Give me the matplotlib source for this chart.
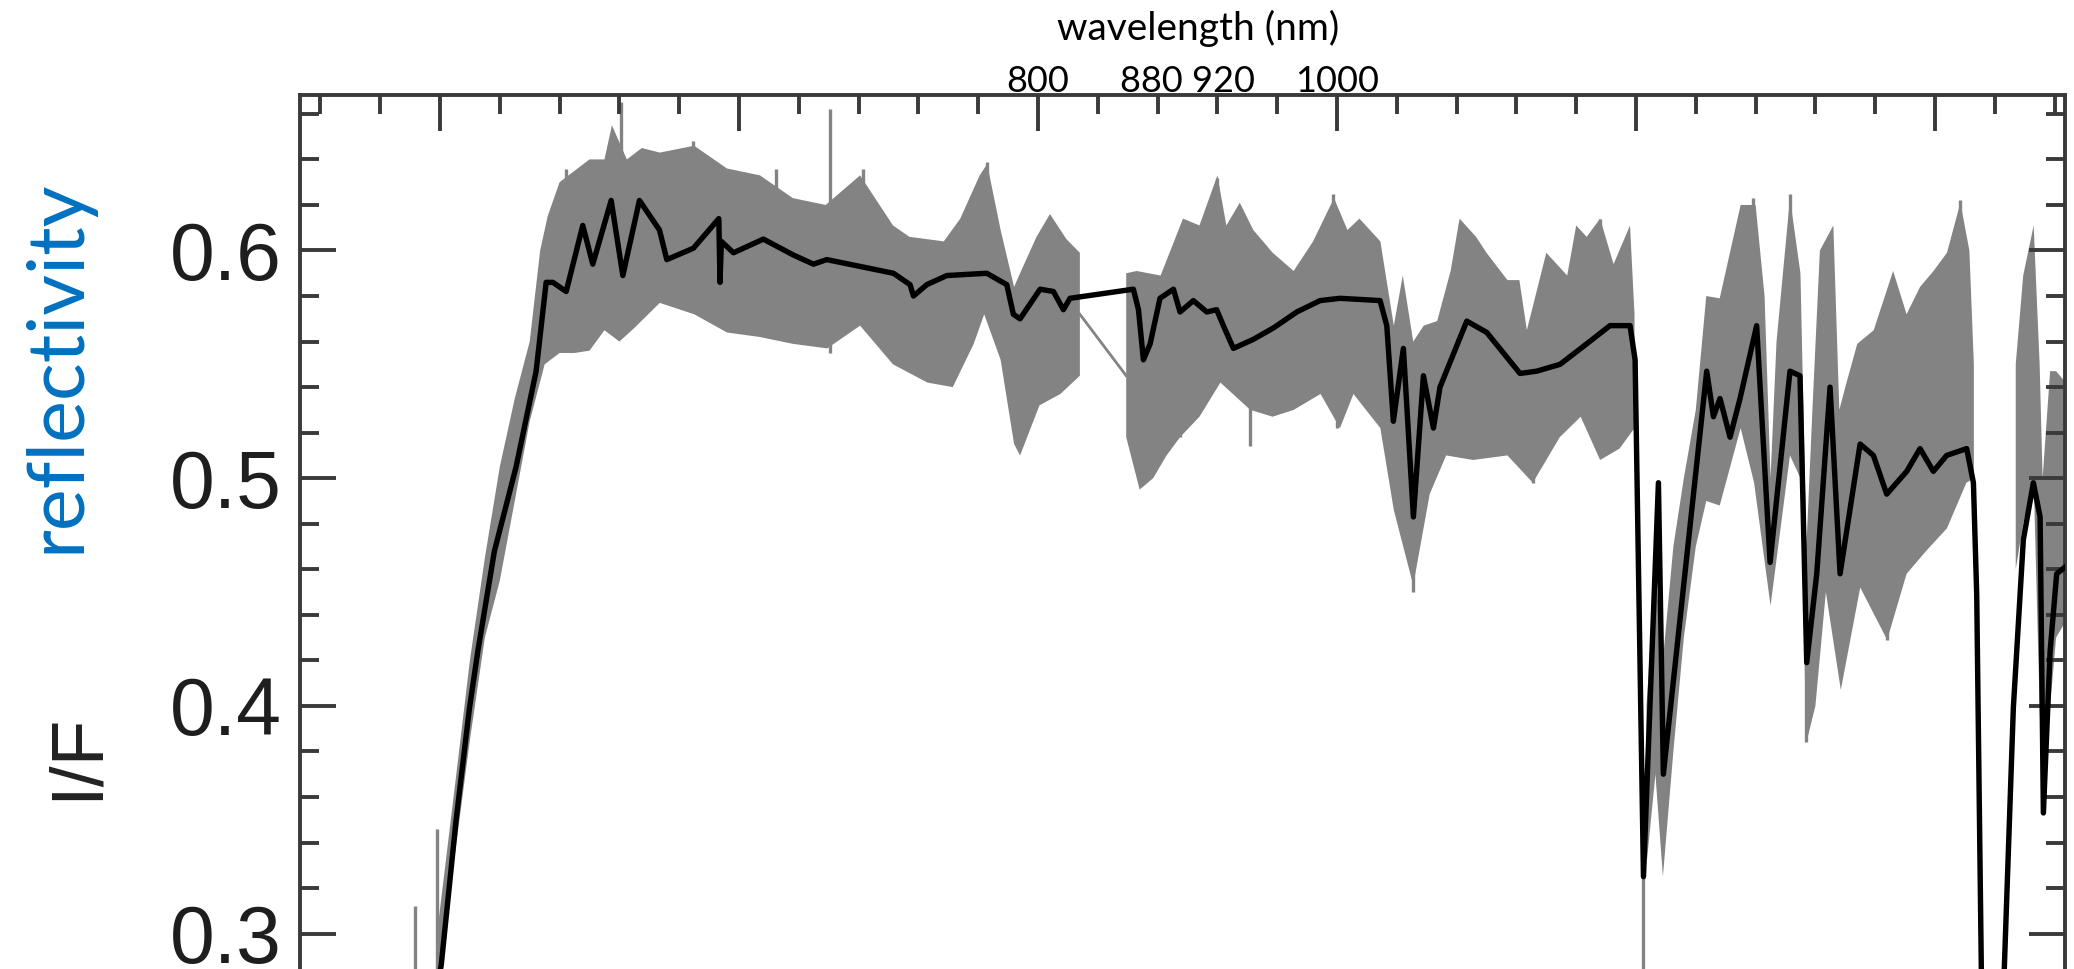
import numpy as np
import matplotlib
matplotlib.use("Agg")
import matplotlib.pyplot as plt

# ---------------- data ----------------
# smoothed spectrum (black line): wavelength (nm) and I/F
black_nm = [396, 400.8, 410.8, 419.7, 425.3, 436.4, 450.9, 464.3, 471.0, 475.5, 484.4, 495.5,
            502.2, 514.5, 522.3, 533.4, 546.8, 551.7, 569.5, 586.5, 587.3, 588.2, 596.3, 616.3,
            636.4, 649.8, 658.7, 681.0, 703.3, 714.4, 716.7, 725.6, 739.0, 765.7, 779.1, 783.5,
            788.0, 801.4, 810.3, 817.0, 821.4, 863.8, 867.2, 870.5, 875.0, 881.6, 890.6, 895.0,
            903.9, 912.9, 919.5, 924.0, 930.7, 944.1, 957.5, 973.1, 988.7, 1002.0, 1028.8,
            1033.3, 1037.7, 1044.4, 1051.1, 1057.8, 1064.5, 1068.9, 1086.8, 1100.2, 1122.4,
            1133.6, 1149.2, 1167.0, 1182.6, 1196.0, 1199.4, 1205.0, 1215.0, 1218.3, 1247.3,
            1251.8, 1256.2, 1262.9, 1269.6, 1280.7, 1289.7, 1303.0, 1309.7, 1314.2, 1320.9,
            1329.8, 1336.5, 1349.9, 1358.8, 1367.7, 1381.1, 1390.0, 1398.9, 1407.8, 1421.2,
            1425.7, 1427.9, 1431.0, 1434.0, 1444.0, 1452.4, 1459.1, 1465.8, 1470.3, 1472.5,
            1477.0, 1481.4, 1487.0]
black_if = [0.270, 0.286, 0.350, 0.399, 0.424, 0.468, 0.505, 0.547, 0.586, 0.586, 0.582, 0.611,
            0.594, 0.622, 0.589, 0.622, 0.609, 0.596, 0.601, 0.614, 0.586, 0.604, 0.599, 0.605,
            0.598, 0.594, 0.596, 0.593, 0.590, 0.585, 0.580, 0.585, 0.589, 0.590, 0.585, 0.572,
            0.570, 0.583, 0.582, 0.574, 0.579, 0.583, 0.574, 0.552, 0.559, 0.579, 0.583, 0.573,
            0.578, 0.573, 0.574, 0.567, 0.557, 0.561, 0.566, 0.573, 0.578, 0.579, 0.578,
            0.567, 0.525, 0.557, 0.483, 0.545, 0.522, 0.540, 0.569, 0.564, 0.546,
            0.547, 0.550, 0.559, 0.567, 0.567, 0.552, 0.325, 0.498, 0.370, 0.547,
            0.527, 0.535, 0.518, 0.535, 0.567, 0.463, 0.547, 0.545, 0.419, 0.458,
            0.540, 0.458, 0.515, 0.510, 0.493, 0.503, 0.513, 0.503, 0.510, 0.513,
            0.498, 0.449, 0.284, 0.240, 0.240, 0.399, 0.473, 0.498, 0.483, 0.353,
            0.424, 0.458, 0.461]

# raw spectrum (grey): upper and lower envelopes, segment by segment
grey_a_nm_hi = [398, 410, 420, 430, 440, 450, 460, 467, 472, 480, 490, 500, 510, 515, 525, 535, 547,
                570, 592, 614, 636, 658, 681, 703, 714, 737, 748, 761, 766, 775, 784, 788, 799, 808,
                819, 828]
grey_a_hi = [0.300, 0.365, 0.420, 0.465, 0.505, 0.535, 0.560, 0.600, 0.615, 0.630, 0.635, 0.640,
             0.640, 0.655, 0.640, 0.645, 0.643, 0.646, 0.636, 0.633, 0.623, 0.620, 0.633, 0.611,
             0.606, 0.604, 0.614, 0.633, 0.638, 0.609, 0.584, 0.590, 0.606, 0.616, 0.605, 0.599]
grey_a_nm_lo = [398, 410, 420, 430, 440, 450, 460, 470, 480, 490, 500, 510, 520, 530, 547, 570, 592,
                614, 636, 659, 681, 703, 726, 743, 757, 764, 775, 784, 788, 801, 815, 828]
grey_a_lo = [0.280, 0.335, 0.385, 0.430, 0.455, 0.490, 0.525, 0.550, 0.555, 0.555, 0.556, 0.565,
             0.560, 0.566, 0.577, 0.572, 0.564, 0.562, 0.559, 0.557, 0.567, 0.550, 0.542, 0.540,
             0.559, 0.572, 0.552, 0.515, 0.510, 0.532, 0.537, 0.545]

grey_b_nm_hi = [859, 866, 882, 897, 908, 920, 926, 935, 944, 957, 971, 984, 998, 1007, 1015, 1029,
                1038, 1044, 1051, 1058, 1067, 1076, 1082, 1093, 1100, 1114, 1122, 1127, 1140, 1154,
                1160, 1167, 1176, 1185, 1196, 1199]
grey_b_hi = [0.590, 0.591, 0.589, 0.614, 0.611, 0.633, 0.611, 0.621, 0.609, 0.599, 0.591, 0.604,
             0.623, 0.609, 0.614, 0.604, 0.567, 0.589, 0.560, 0.567, 0.569, 0.591, 0.614, 0.606,
             0.599, 0.587, 0.587, 0.565, 0.599, 0.589, 0.611, 0.606, 0.614, 0.594, 0.611, 0.572]
grey_b_nm_lo = [859, 868, 877, 886, 895, 908, 922, 942, 957, 971, 989, 1002, 1011, 1029, 1038,
                1051, 1062, 1073, 1091, 1114, 1131, 1149, 1163, 1176, 1189, 1199]
grey_b_lo = [0.518, 0.495, 0.500, 0.510, 0.518, 0.527, 0.542, 0.530, 0.527, 0.530, 0.537, 0.522,
             0.537, 0.522, 0.486, 0.453, 0.493, 0.510, 0.508, 0.510, 0.498, 0.518, 0.527, 0.508,
             0.513, 0.522]

grey_c_nm_hi = [1207, 1213, 1218, 1225, 1232, 1240, 1247, 1256, 1270, 1280, 1286, 1290, 1294,
                1303, 1310, 1314, 1318, 1323, 1332, 1336, 1340, 1348, 1359, 1372, 1381, 1390,
                1399, 1408, 1417, 1423, 1426]
grey_c_hi = [0.400, 0.460, 0.420, 0.470, 0.500, 0.530, 0.580, 0.579, 0.620, 0.620, 0.580, 0.500,
             0.560, 0.623, 0.590, 0.470, 0.530, 0.600, 0.611, 0.530, 0.540, 0.559, 0.565, 0.591,
             0.572, 0.584, 0.591, 0.599, 0.621, 0.600, 0.550]
grey_c_nm_lo = [1207, 1213, 1218, 1225, 1232, 1240, 1247, 1256, 1270, 1279, 1290, 1303, 1310,
                1314, 1320, 1327, 1337, 1350, 1368, 1381, 1394, 1408, 1421, 1426]
grey_c_lo = [0.330, 0.370, 0.325, 0.380, 0.430, 0.470, 0.490, 0.488, 0.522, 0.498, 0.444, 0.510,
             0.500, 0.384, 0.400, 0.450, 0.407, 0.452, 0.429, 0.458, 0.468, 0.478, 0.498, 0.500]

grey_d_nm_hi = [1454, 1459, 1466, 1470, 1472, 1477, 1481, 1490]
grey_d_hi = [0.550, 0.589, 0.611, 0.550, 0.500, 0.547, 0.547, 0.540]
grey_d_nm_lo = [1454, 1459, 1466, 1470, 1472, 1477, 1481, 1490]
grey_d_lo = [0.460, 0.480, 0.500, 0.400, 0.353, 0.400, 0.430, 0.440]

# interpolation segment of the grey spectrum across the 830-860 nm gap
grey_gap_nm = [828, 859]
grey_gap_if = [0.572, 0.545]

# isolated grey spikes: wavelength, low, high
spike_nm = [383, 398, 484, 521, 569.5, 580.6, 625, 661, 683, 765.7, 895, 919.5, 941.8, 997.6,
            999.8, 1051, 1082.3, 1131.4, 1176, 1205, 1278.5, 1303, 1314, 1368, 1417, 1472]
spike_lo = [0.270, 0.270, 0.580, 0.580, 0.600, 0.600, 0.598, 0.555, 0.595, 0.590, 0.518, 0.575,
            0.514, 0.580, 0.522, 0.450, 0.565, 0.498, 0.560, 0.200, 0.560, 0.550, 0.384, 0.429,
            0.515, 0.353]
spike_hi = [0.312, 0.346, 0.636, 0.665, 0.648, 0.640, 0.636, 0.662, 0.636, 0.639, 0.560, 0.632,
            0.560, 0.625, 0.560, 0.550, 0.612, 0.540, 0.614, 0.330, 0.623, 0.625, 0.470, 0.480,
            0.622, 0.500]

y_ticks = [0.3, 0.4, 0.5, 0.6]
y_ticklabels = ["0.3", "0.4", "0.5", "0.6"]
top_labels = ["800", "880 920", "1000"]
top_label_nm = [800, 900, 1000]

# ---------------- figure ----------------
W, H = 2074, 969
fig = plt.figure(figsize=(W / 100, H / 100), dpi=100)
ax = fig.add_axes([300 / W, 0.0, 1765 / W, (H - 95) / H])

XMIN, XMAX = 306.35, 1486.96
YMIN, YMAX = 0.28445, 0.66829
ax.set_xlim(XMIN, XMAX)
ax.set_ylim(YMIN, YMAX)

grey = "#838383"
for nh, hi, nl, lo in [(grey_a_nm_hi, grey_a_hi, grey_a_nm_lo, grey_a_lo),
                       (grey_b_nm_hi, grey_b_hi, grey_b_nm_lo, grey_b_lo),
                       (grey_c_nm_hi, grey_c_hi, grey_c_nm_lo, grey_c_lo),
                       (grey_d_nm_hi, grey_d_hi, grey_d_nm_lo, grey_d_lo)]:
    xs = list(nh) + list(nl)[::-1]
    ys = list(hi) + list(lo)[::-1]
    ax.fill(xs, ys, color=grey, lw=0, zorder=1)

ax.plot(grey_gap_nm, grey_gap_if, color=grey, lw=2.0, zorder=1)
ax.vlines(spike_nm, spike_lo, spike_hi, color=grey, lw=2.4, zorder=1)

ax.plot(black_nm, black_if, color="black", lw=3.9, zorder=3, solid_joinstyle="round")

# axes styling
spine_c = "#3a3a3a"
for s in ["top", "left", "right"]:
    ax.spines[s].set_linewidth(2.8)
    ax.spines[s].set_color(spine_c)
ax.spines["bottom"].set_visible(False)

ax.set_xticks(np.arange(400, 1401, 200))
ax.set_xticks(np.arange(320, 1481, 40), minor=True)
ax.set_yticks(y_ticks)
ax.set_yticklabels(y_ticklabels)
ax.set_yticks(np.arange(0.30, 0.665, 0.02), minor=True)

ax.tick_params(axis="x", which="both", direction="in", top=True, bottom=False,
               labeltop=False, labelbottom=False, color=spine_c, width=2.8)
ax.tick_params(axis="y", which="both", direction="in", left=True, right=True,
               labelleft=True, labelright=False, color=spine_c, width=2.8)
ax.tick_params(which="major", length=26)
ax.tick_params(which="minor", length=14)
ax.tick_params(axis="y", which="major", pad=13, labelsize=58, labelcolor="#1e1e1e")
for lab in ax.get_yticklabels():
    lab.set_family("Liberation Sans")

# labels
fig.text(57 / W, 1 - 366 / H, "reflectivity", rotation=90, ha="center", va="center",
         color="#0070C0", fontsize=57, family="Lato")
fig.text(77 / W, 1 - 756 / H, "I/F", rotation=90, ha="center", va="center",
         color="#222222", fontsize=54, family="Liberation Sans")

fig.text(1198 / W, 1 - 40 / H, "wavelength (nm)", ha="center", va="baseline",
         fontsize=28, family="Lato", color="black")
px_per_nm = 1765 / (XMAX - XMIN)
for lab, nm in zip(top_labels, top_label_nm):
    xpix = 300 + (nm - XMIN) * px_per_nm
    fig.text(xpix / W, 1 - 92 / H, lab, ha="center", va="baseline",
             fontsize=26, family="Lato", color="black")

fig.savefig("out.png", dpi=100)
